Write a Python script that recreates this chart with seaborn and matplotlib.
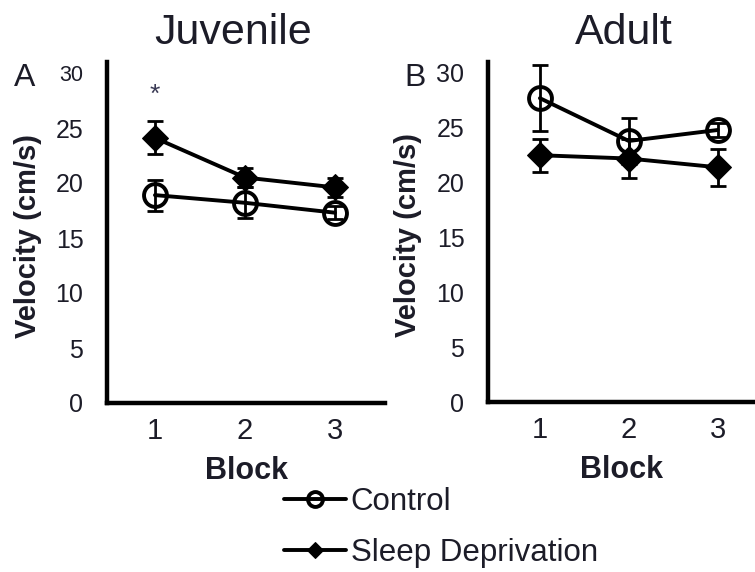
import matplotlib
matplotlib.use("Agg")
import matplotlib.pyplot as plt
import seaborn as sns
import numpy as np

sns.set_theme(style="white")
plt.rcParams["font.family"] = ["Liberation Sans", "DejaVu Sans"]

# Mean swim velocity (cm/s) per training block, with SEM
blocks = [1, 2, 3]
juv_control = [18.9, 18.2, 17.3]
juv_control_err = [1.4, 1.4, 0.6]
juv_sleepdep = [24.1, 20.5, 19.6]
juv_sleepdep_err = [1.5, 0.9, 0.9]
adult_control = [27.7, 23.8, 24.8]
adult_control_err = [3.0, 2.1, 0.6]
adult_sleepdep = [22.5, 22.2, 21.4]
adult_sleepdep_err = [1.5, 1.8, 1.7]
group_labels = ["Control", "Sleep Deprivation"]
panel_titles = ["Juvenile", "Adult"]
panel_letters = ["A", "B"]
yticks = [0, 5, 10, 15, 20, 25, 30]
sig_block = 1
sig_value = 28.0

ink = "#1c1c28"
W, H = 755, 572
fig = plt.figure(figsize=(W / 100, H / 100), dpi=100)

def frac_box(l, r, t, b):
    return [l / W, 1 - b / H, (r - l) / W, (b - t) / H]

axA = fig.add_axes(frac_box(107, 385, 62, 403))
axB = fig.add_axes(frac_box(488, 755, 62, 402))

panels = [
    (axA, juv_control, juv_control_err, juv_sleepdep, juv_sleepdep_err, (0.467, 3.556)),
    (axB, adult_control, adult_control_err, adult_sleepdep, adult_sleepdep_err, (0.416, 3.42)),
]

for i, (ax, ctl, ctl_e, sd, sd_e, xlim) in enumerate(panels):
    # error bars
    ax.errorbar(blocks, sd, yerr=sd_e, fmt="none", ecolor="black",
                elinewidth=2.0, capsize=6, capthick=2.0, zorder=2)
    ax.errorbar(blocks, ctl, yerr=ctl_e, fmt="none", ecolor="black",
                elinewidth=2.0, capsize=6, capthick=2.0, zorder=2)
    # group means
    sns.lineplot(x=blocks, y=sd, ax=ax, color="black", linewidth=2.8,
                 marker="D", markersize=13, markerfacecolor="black",
                 markeredgecolor="black", label=group_labels[1], zorder=3)
    sns.lineplot(x=blocks, y=ctl, ax=ax, color="black", linewidth=2.8,
                 marker="o", markersize=16.5, markerfacecolor="none",
                 markeredgecolor="black", markeredgewidth=2.8,
                 label=group_labels[0], zorder=3)
    ax.set_xlim(*xlim)
    ax.set_ylim(0, 31)
    ax.set_xticks(blocks)
    ax.set_yticks(yticks)
    ax.tick_params(axis="both", length=0, colors=ink)
    ax.tick_params(axis="y", pad=17, labelsize=18)
    ax.tick_params(axis="x", pad=10, labelsize=21)
    for side in ["top", "right"]:
        ax.spines[side].set_visible(False)
    for side in ["left", "bottom"]:
        ax.spines[side].set_color("black")
        ax.spines[side].set_linewidth(3.2)
    ax.set_ylabel("Velocity (cm/s)", fontsize=21, fontweight="bold", color=ink)
    ax.set_xlabel("Block", fontsize=22, fontweight="bold", color=ink)
    ax.yaxis.set_label_coords(-0.234 if i == 0 else -0.247, 0.49)
    ax.xaxis.set_label_coords(0.5, -0.155)
    ax.get_legend().remove()
    ax.set_facecolor("white")

axA.set_title(panel_titles[0], fontsize=31, color=ink, x=0.453, pad=13)
axB.set_title(panel_titles[1], fontsize=31, color=ink, x=0.51, pad=13)
fig.text(14 / W, 1 - 86 / H, panel_letters[0], fontsize=23, color=ink,
         ha="left", va="baseline")
fig.text(404 / W, 1 - 86 / H, panel_letters[1], fontsize=23, color=ink,
         ha="left", va="baseline")

# slightly smaller top label on the juvenile axis
axA.get_yticklabels()[-1].set_fontsize(15.5)

axA.text(sig_block, sig_value, "*", ha="center", va="center",
         fontsize=19, color="#3a3a55")

handles, labels = axA.get_legend_handles_labels()
order = [labels.index(g) for g in group_labels]
fig.legend([handles[k] for k in order], [labels[k] for k in order],
           loc="upper left", bbox_to_anchor=(268 / W, 1 - 471 / H),
           frameon=False, fontsize=22.5, handlelength=2.0, handletextpad=0.15,
           labelspacing=0.68, markerscale=0.65, borderpad=0, labelcolor=ink)

fig.savefig("out.png", dpi=100, facecolor="white")
